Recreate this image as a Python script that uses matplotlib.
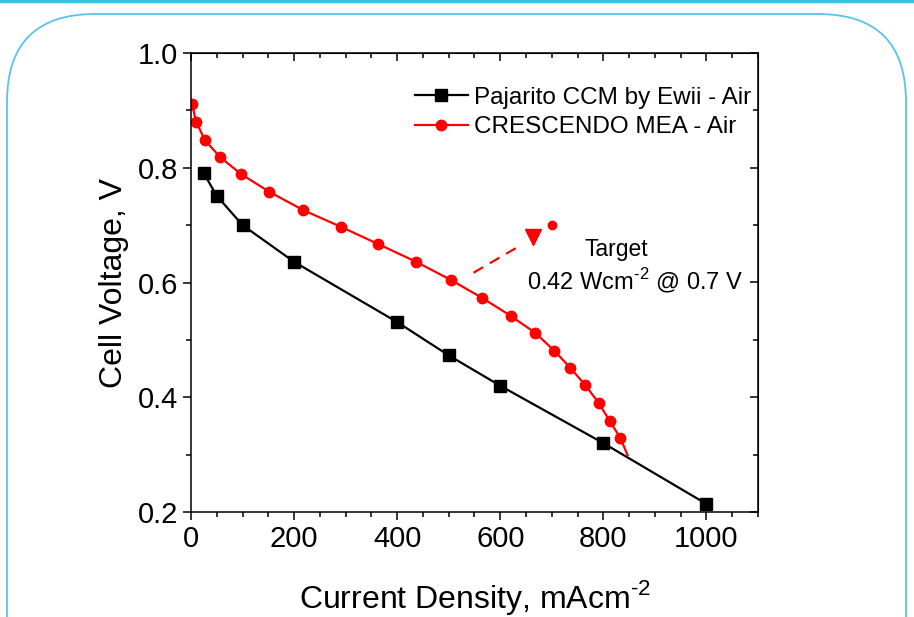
import matplotlib
matplotlib.use('Agg')
import matplotlib.pyplot as plt
from matplotlib.patches import FancyBboxPatch
from matplotlib.ticker import MultipleLocator

plt.rcParams['font.family'] = ['Liberation Sans', 'DejaVu Sans']
plt.rcParams['mathtext.fontset'] = 'custom'
plt.rcParams['mathtext.rm'] = 'Liberation Sans'

# dados
pajarito_j = [25, 50, 100, 200, 400, 500, 600, 800, 1000]
pajarito_v = [0.790, 0.751, 0.700, 0.636, 0.531, 0.473, 0.420, 0.320, 0.214]

crescendo_j = [2, 10, 27, 56, 97, 152, 218, 291, 363, 437, 505, 565, 620,
               668, 705, 736, 765, 791, 812, 833]
crescendo_v = [0.911, 0.880, 0.848, 0.819, 0.789, 0.758, 0.726, 0.697, 0.667,
               0.636, 0.604, 0.573, 0.542, 0.512, 0.481, 0.451, 0.421, 0.390,
               0.359, 0.329]
# fim da curva sem marcador
crescendo_tail_j = [833, 847]
crescendo_tail_v = [0.329, 0.299]

target_j = [700]
target_v = [0.70]

# seta tracejada (inicio, fim) e ponta
arrow_j = [548, 640]
arrow_v = [0.617, 0.665]
arrow_head = (664, 0.679)

fig = plt.figure(figsize=(9.14, 6.17), dpi=100)

# fundo do slide (borda arredondada)
bg = fig.add_axes([0, 0, 1, 1])
bg.set_xlim(0, 914)
bg.set_ylim(617, 0)
bg.axis('off')
bg.add_patch(FancyBboxPatch((7, 14), 899, 700, boxstyle='round,pad=0,rounding_size=88',
                            fc='white', ec='#55c4ee', lw=1.3))
bg.plot([0, 914], [1, 1], color='#3dbde8', lw=2.5)

ax = fig.add_axes([191/914, 1-512/617, 567/914, 459/617])
ax.plot(pajarito_j, pajarito_v, '-', color='black', lw=1.6, marker='s', ms=8,
        label='Pajarito CCM by Ewii - Air')
ax.plot(crescendo_j, crescendo_v, '-', color='red', lw=1.6, marker='o', ms=7.5,
        label='CRESCENDO MEA - Air')
ax.plot(crescendo_tail_j, crescendo_tail_v, '-', color='red', lw=1.6)
ax.plot(target_j, target_v, 'o', color='red', ms=6)

ax.plot(arrow_j, arrow_v, color='red', lw=1.6, dashes=(5, 3.5))
ax.plot([arrow_head[0]], [arrow_head[1]], marker='v', ms=12, color='red', ls='none')

ax.text(826, 0.657, 'Target', ha='center', va='center', fontsize=16.5)
ax.text(862, 0.601, '0.42 Wcm$^{\\text{-2}}$ @ 0.7 V', ha='center', va='center',
        fontsize=17)

ax.set_xlim(0, 1100)
ax.set_ylim(0.2, 1.0)
ax.xaxis.set_major_locator(MultipleLocator(200))
ax.xaxis.set_minor_locator(MultipleLocator(50))
ax.yaxis.set_major_locator(MultipleLocator(0.2))
ax.yaxis.set_minor_locator(MultipleLocator(0.1))
ax.tick_params(which='both', direction='out', labelsize=21, width=1.1)
ax.tick_params(which='major', length=6)
ax.tick_params(which='minor', length=3.5)
ax.set_xticks([0, 200, 400, 600, 800, 1000])
ax.set_yticks([0.2, 0.4, 0.6, 0.8, 1.0])
ax.set_yticklabels(['0.2', '0.4', '0.6', '0.8', '1.0'])

# ticks espelhados no topo e na direita
sec_x = ax.secondary_xaxis('top')
sec_x.xaxis.set_major_locator(MultipleLocator(200))
sec_x.xaxis.set_minor_locator(MultipleLocator(50))
sec_x.tick_params(which='both', direction='in', labeltop=False, width=1.1)
sec_x.tick_params(which='major', length=6)
sec_x.tick_params(which='minor', length=3.5)
sec_y = ax.secondary_yaxis('right')
sec_y.yaxis.set_major_locator(MultipleLocator(0.2))
sec_y.yaxis.set_minor_locator(MultipleLocator(0.1))
sec_y.tick_params(which='both', direction='in', labelright=False, width=1.1)
sec_y.tick_params(which='major', length=6)
sec_y.tick_params(which='minor', length=3.5)

for s in ax.spines.values():
    s.set_linewidth(1.1)

ax.set_xlabel('Current Density, mAcm$^{\\text{-2}}$', fontsize=23, labelpad=18)
ax.set_ylabel('Cell Voltage, V', fontsize=23, labelpad=6)

ax.legend(loc='upper right', bbox_to_anchor=(0.988, 0.926), frameon=False,
          fontsize=17.5, handlelength=2.2, handletextpad=0.25, labelspacing=0.3,
          borderpad=0, borderaxespad=0)

fig.savefig('out.png', dpi=100)
